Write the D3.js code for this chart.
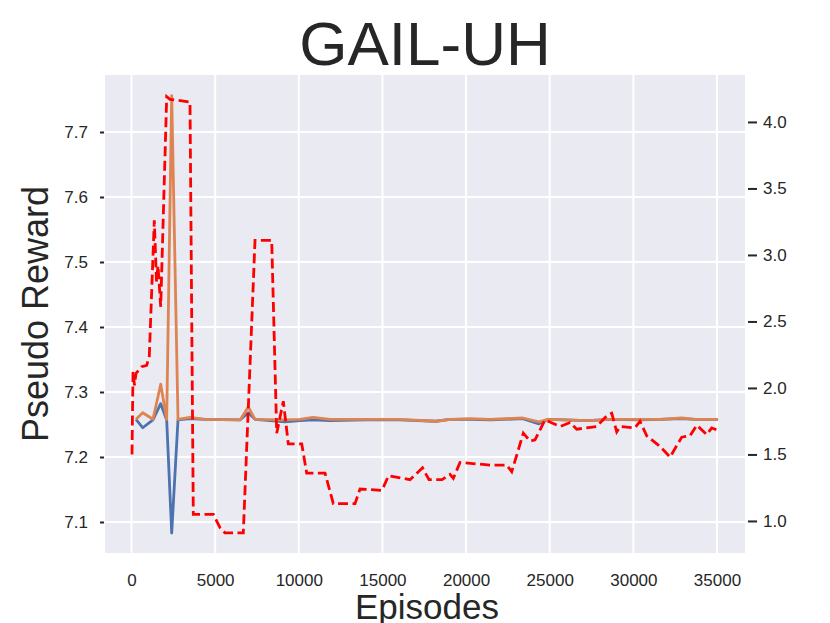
<!DOCTYPE html>
<html>
<head>
<meta charset="utf-8">
<script src="https://d3js.org/d3.v7.min.js"></script>
<style>
body { margin: 0; background: #fff; }
text { font-family: "Liberation Sans", Arial, sans-serif; fill: #262626; }
</style>
</head>
<body>
<svg id="chart" width="830" height="623"></svg>
<script>
// episodes where the reward lines were logged
var rewardEpisodes = [269, 670, 1285, 1746, 2104, 2403, 2780, 3497, 4394, 6486, 6982, 7383, 9176, 10070, 10848, 11866,
    14000, 16000, 18203, 19040, 20235, 21431, 23386, 24360, 24899, 27290, 28605, 30399, 31594, 32891, 33686, 35061];
var blueReward = [7.258, 7.245, 7.257, 7.282, 7.257, 7.083, 7.257, 7.259, 7.258, 7.257, 7.268, 7.258, 7.254, 7.256, 7.257, 7.256,
    7.257, 7.257, 7.255, 7.258, 7.258, 7.257, 7.259, 7.251, 7.258, 7.256, 7.258, 7.257, 7.258, 7.259, 7.258, 7.258];
var orangeReward = [7.258, 7.268, 7.258, 7.312, 7.258, 7.756, 7.258, 7.261, 7.258, 7.257, 7.277, 7.258, 7.257, 7.258, 7.261, 7.258,
    7.258, 7.258, 7.255, 7.258, 7.259, 7.258, 7.260, 7.254, 7.258, 7.256, 7.258, 7.258, 7.258, 7.260, 7.258, 7.258];

// red dashed series on the right axis
var redEpisodes = [30, 90, 179, 269, 610, 909, 1064, 1363, 1495, 1584, 1746, 2104, 2301, 3497, 3694, 4890, 5290, 5589, 6683,
    7383, 8381, 8680, 9075, 9373, 10175, 10473, 11567, 12064, 13361, 13660, 14975, 15363, 16648, 17396, 17784, 18562,
    19040, 19237, 19638, 21431, 22430, 22728, 23422, 23822, 24121, 24719, 25615, 26213, 26614, 27809, 28407, 28706,
    29005, 29203, 30100, 30399, 30799, 31594, 32192, 32891, 33387, 33788, 34386, 34684, 35079];
var redValue = [1.50, 2.12, 2.02, 2.11, 2.16, 2.17, 2.24, 3.26, 2.80, 2.92, 2.61, 4.19, 4.17, 4.15, 1.05, 1.05, 0.95, 0.91, 0.91,
    3.11, 3.11, 1.66, 1.90, 1.58, 1.58, 1.36, 1.36, 1.13, 1.13, 1.24, 1.23, 1.34, 1.31, 1.40, 1.31, 1.31,
    1.35, 1.32, 1.44, 1.42, 1.42, 1.37, 1.66, 1.60, 1.61, 1.76, 1.71, 1.74, 1.69, 1.71, 1.79, 1.81,
    1.67, 1.71, 1.70, 1.75, 1.64, 1.56, 1.48, 1.63, 1.64, 1.72, 1.65, 1.70, 1.68];

var xTicks = [0, 5000, 10000, 15000, 20000, 25000, 30000, 35000];
var leftTicks = [7.1, 7.2, 7.3, 7.4, 7.5, 7.6, 7.7];
var rightTicks = [1.0, 1.5, 2.0, 2.5, 3.0, 3.5, 4.0];

var margin = {top: 75, right: 85, bottom: 70, left: 105};
var w = 830 - margin.left - margin.right;
var h = 623 - margin.top - margin.bottom;

var svg = d3.select("#chart");
var chart = svg.append("g")
    .attr("transform", "translate(" + margin.left + "," + margin.top + ")");

var x = d3.scaleLinear().domain([-1584, 36673]).range([0, w]);
var yL = d3.scaleLinear().domain([7.0523, 7.7877]).range([h, 0]);
var yR = d3.scaleLinear().domain([0.759, 4.353]).range([h, 0]);

chart.append("rect")
    .attr("width", w)
    .attr("height", h)
    .style("fill", "#eaeaf2");

// grid from the left axis + x ticks
chart.selectAll(".hgrid").data(leftTicks).enter().append("line")
    .attr("x1", 0).attr("x2", w)
    .attr("y1", function(d) { return yL(d); })
    .attr("y2", function(d) { return yL(d); })
    .style("stroke", "#fff").style("stroke-width", 2);

chart.selectAll(".vgrid").data(xTicks).enter().append("line")
    .attr("y1", 0).attr("y2", h)
    .attr("x1", function(d) { return x(d); })
    .attr("x2", function(d) { return x(d); })
    .style("stroke", "#fff").style("stroke-width", 2);

var xAxis = d3.axisBottom(x).tickValues(xTicks).tickSize(0).tickPadding(21).tickFormat(d3.format("d"));
var leftAxis = d3.axisLeft(yL).tickValues(leftTicks).tickSize(4).tickPadding(12).tickFormat(d3.format(".1f"));
var rightAxis = d3.axisRight(yR).tickValues(rightTicks).tickSize(9).tickPadding(6).tickFormat(d3.format(".1f"));

function styleAxis(g) {
    g.select(".domain").remove();
    g.selectAll("text").style("font-size", "17px").style("fill", "#262626");
    g.selectAll(".tick line").style("stroke", "#262626").style("stroke-width", 2);
}

chart.append("g")
    .attr("transform", "translate(0," + h + ")")
    .call(xAxis)
    .call(styleAxis);

chart.append("g")
    .attr("transform", "translate(-1,0)")
    .call(leftAxis)
    .call(styleAxis);

chart.append("g")
    .attr("transform", "translate(" + (w + 3) + ",0)")
    .call(rightAxis)
    .call(styleAxis);

var lineL = function(vals) {
    return d3.line()
        .x(function(d, i) { return x(rewardEpisodes[i]); })
        .y(function(d) { return yL(d); })(vals);
};

chart.append("path")
    .attr("d", lineL(blueReward))
    .style("fill", "none").style("stroke", "#4c72b0").style("stroke-width", 2.8)
    .style("stroke-linejoin", "round");

chart.append("path")
    .attr("d", lineL(orangeReward))
    .style("fill", "none").style("stroke", "#dd8452").style("stroke-width", 2.8)
    .style("stroke-linejoin", "round");

var lineR = d3.line()
    .x(function(d, i) { return x(redEpisodes[i]); })
    .y(function(d) { return yR(d); });

chart.append("path")
    .attr("d", lineR(redValue))
    .style("fill", "none").style("stroke", "red").style("stroke-width", 2.8)
    .style("stroke-dasharray", "10,4.5");

// titles
svg.append("text")
    .attr("x", margin.left + w / 2)
    .attr("y", 65)
    .style("text-anchor", "middle")
    .style("font-size", "62px")
    .text("GAIL-UH");

svg.append("text")
    .attr("transform", "translate(48," + (margin.top + h / 2) + ") rotate(-90)")
    .style("text-anchor", "middle")
    .style("font-size", "36px")
    .text("Pseudo Reward");

svg.append("text")
    .attr("x", margin.left + w / 2 + 2)
    .attr("y", 619)
    .style("text-anchor", "middle")
    .style("font-size", "35px")
    .text("Episodes");
</script>
</body>
</html>
